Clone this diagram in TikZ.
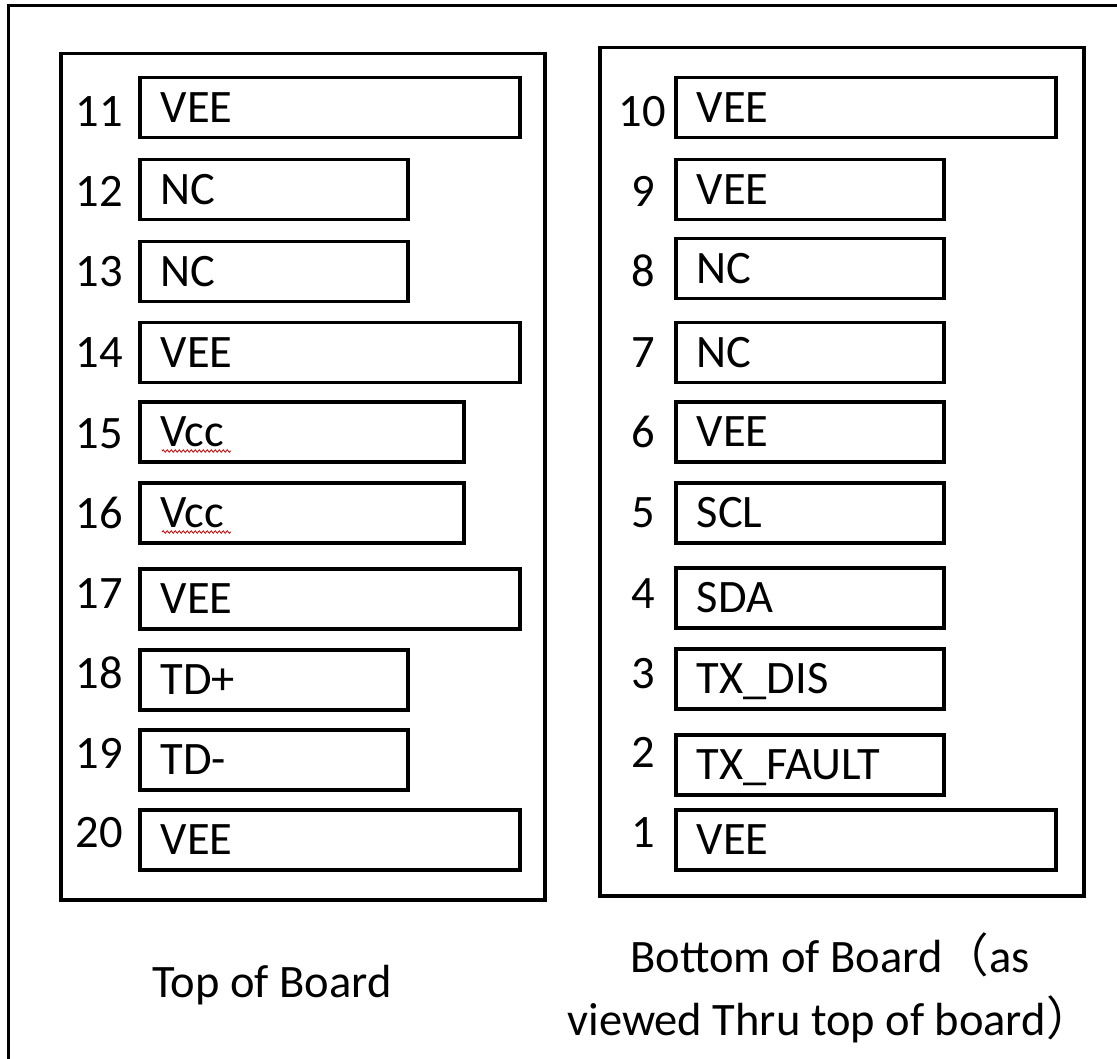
\documentclass[tikz,border=0pt]{standalone}
\usepackage{fontspec}
\setmainfont{Carlito}
\newfontfamily\cjk{Noto Sans CJK SC}
\usetikzlibrary{decorations.pathmorphing}
\begin{document}
\begin{tikzpicture}[x=1pt,y=-1pt,
  frame/.style={draw,line width=3.5pt},
  board/.style={draw,line width=3.5pt,anchor=north west,inner sep=0pt},
  pinbox/.style={draw,line width=3.5pt,anchor=north west,minimum height=60pt,
    inner xsep=21pt,inner ysep=0pt,text width=#1,align=left,
    text height=30pt,text depth=0pt,font=\fontsize{46.5}{54}\selectfont},
  pinnum/.style={anchor=base east,inner sep=0pt,font=\fontsize{46.5}{54}\selectfont},
  caption/.style={anchor=base,inner sep=0pt,font=\fontsize{46.5}{54}\selectfont},
  squiggle/.style={draw=red!80!black,line width=0.8pt,
    decorate,decoration={snake,amplitude=1.2pt,segment length=4pt}}
]
\useasboundingbox (0,0) rectangle (1117,1059);
% outer frame (only top and left edges visible)
\coordinate (fbl) at (8.5,1059);
\coordinate (ftl) at (8.5,5.5);
\coordinate (ftr) at (1117,5.5);
\draw[frame] (fbl) -- (ftl) -- (ftr);
% boards
\node[board,minimum width=484pt,minimum height=846pt] (topboard) at (59,52) {};
\node[board,minimum width=484pt,minimum height=848pt] (botboard) at (598,46) {};
% left column (top of board)
\node[pinbox=338pt] (p11) at (138,76)  {VEE};
\node[pinbox=226pt] (p12) at (138,158) {NC};
\node[pinbox=226pt] (p13) at (138,240) {NC};
\node[pinbox=338pt] (p14) at (138,321) {VEE};
\node[pinbox=282pt] (p15) at (138,400) {Vcc};
\node[pinbox=282pt] (p16) at (138,481) {Vcc};
\node[pinbox=338pt] (p17) at (138,567) {VEE};
\node[pinbox=226pt] (p18) at (138,648) {TD+};
\node[pinbox=226pt] (p19) at (138,728) {TD-};
\node[pinbox=338pt] (p20) at (138,808) {VEE};
\node[pinnum] (n11) at (123,127) {11};
\node[pinnum] (n12) at (123,207) {12};
\node[pinnum] (n13) at (123,287) {13};
\node[pinnum] (n14) at (123,367) {14};
\node[pinnum] (n15) at (123,448) {15};
\node[pinnum] (n16) at (123,528) {16};
\node[pinnum] (n17) at (123,608) {17};
\node[pinnum] (n18) at (123,688) {18};
\node[pinnum] (n19) at (123,768) {19};
\node[pinnum] (n20) at (123,847) {20};
% spell-check squiggles under Vcc
\draw[squiggle] (162,451) -- (231,451);
\draw[squiggle] (162,532) -- (231,532);
% right column (bottom of board)
\node[pinbox=338pt] (p10) at (674,76)  {VEE};
\node[pinbox=226pt] (p9)  at (674,158) {VEE};
\node[pinbox=226pt] (p8)  at (674,237) {NC};
\node[pinbox=226pt] (p7)  at (674,321) {NC};
\node[pinbox=226pt] (p6)  at (674,400) {VEE};
\node[pinbox=226pt] (p5)  at (674,481) {SCL};
\node[pinbox=226pt] (p4)  at (674,566) {SDA};
\node[pinbox=226pt] (p3)  at (674,647) {TX\_DIS};
\node[pinbox=226pt] (p2)  at (674,733) {TX\_FAULT};
\node[pinbox=338pt] (p1)  at (674,808) {VEE};
\node[pinnum] (n10) at (666,127) {10};
\node[pinnum] (n9)  at (655,207) {9};
\node[pinnum] (n8)  at (655,287) {8};
\node[pinnum] (n7)  at (655,367) {7};
\node[pinnum] (n6)  at (655,447) {6};
\node[pinnum] (n5)  at (655,527) {5};
\node[pinnum] (n4)  at (655,608) {4};
\node[pinnum] (n3)  at (655,688) {3};
\node[pinnum] (n2)  at (655,767) {2};
\node[pinnum] (n1)  at (655,847) {1};
% captions
\node[caption] (captop) at (272,997) {Top of Board};
\node[caption] (capbot1) at (830,972) {Bottom of Board{\cjk （}as};
\node[caption] (capbot2) at (830,1035) {viewed Thru top of board{\cjk ）}};
\end{tikzpicture}
\end{document}
